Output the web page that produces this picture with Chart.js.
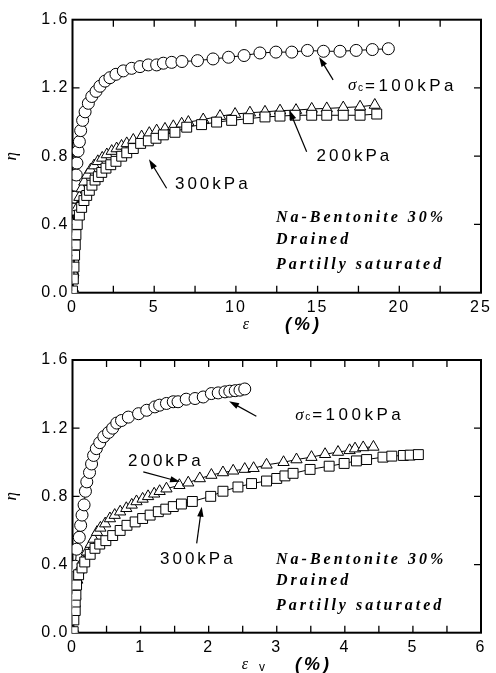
<!DOCTYPE html>
<html lang="en">
<head>
<meta charset="UTF-8">
<title>Na-Bentonite 30% | Drained</title>
<script src="https://cdn.jsdelivr.net/npm/chart.js"></script>
<style>
    body { margin: 0; background: #fff; }
    #janela { position: relative; width: 496px; height: 673px; }
    canvas { position: absolute; left: 0; }
    #grafico1 { top: 0; }
    #grafico2 { top: 330px; }
</style>
</head>
<body>
<div id="janela">
    <canvas id="grafico1" width="496" height="340"></canvas>
    <canvas id="grafico2" width="496" height="343"></canvas>
</div>

<script>
    // ---- dados ----
    // grafico de cima: eta x deformacao axial (%)
    const cimaX100 = [0, 0.01, 0.02, 0.04, 0.06, 0.09, 0.15, 0.2, 0.23, 0.27, 0.34, 0.42, 0.5, 0.62, 0.77, 0.97, 1.18, 1.44, 1.68, 1.99, 2.29, 2.66, 3.11, 3.62, 4.13, 4.64, 5.15, 5.56, 6.07, 6.7, 7.65, 8.6, 9.55, 10.5, 11.47, 12.45, 13.42, 14.38, 15.36, 16.37, 17.36, 18.35, 19.33];
    const cimaY100 = [0, 0.1, 0.18, 0.3, 0.4, 0.49, 0.56, 0.63, 0.69, 0.76, 0.83, 0.885, 0.95, 1.01, 1.06, 1.11, 1.15, 1.18, 1.21, 1.24, 1.26, 1.28, 1.3, 1.315, 1.325, 1.335, 1.335, 1.345, 1.35, 1.355, 1.36, 1.37, 1.38, 1.39, 1.405, 1.41, 1.41, 1.42, 1.415, 1.415, 1.42, 1.425, 1.43];

    const cimaX200 = [0, 0.04, 0.08, 0.13, 0.2, 0.3, 0.42, 0.56, 0.72, 0.9, 1.1, 1.32, 1.55, 1.82, 2.1, 2.4, 2.7, 3.0, 3.32, 3.72, 4.23, 4.7, 5.15, 5.66, 6.17, 6.68, 7.09, 8.0, 9.03, 9.95, 10.86, 11.78, 12.7, 13.68, 14.64, 15.56, 16.57, 17.6, 18.5];
    const cimaY200 = [0, 0.12, 0.24, 0.34, 0.42, 0.5, 0.56, 0.61, 0.65, 0.69, 0.72, 0.745, 0.77, 0.79, 0.81, 0.83, 0.845, 0.86, 0.875, 0.895, 0.915, 0.935, 0.95, 0.96, 0.975, 0.99, 1.0, 1.015, 1.035, 1.047, 1.055, 1.06, 1.067, 1.07, 1.077, 1.08, 1.085, 1.09, 1.1];

    const cimaX300 = [0, 0.05, 0.09, 0.13, 0.17, 0.21, 0.29, 0.42, 0.56, 0.7, 0.87, 1.03, 1.19, 1.38, 1.58, 1.79, 2.05, 2.34, 2.66, 3.01, 3.32, 3.72, 4.17, 4.64, 5.11, 5.56, 6.27, 6.99, 7.9, 8.82, 9.74, 10.76, 11.78, 12.7, 13.62, 14.64, 15.56, 16.57, 17.6, 18.62];
    const cimaY300 = [0.01, 0.08, 0.15, 0.22, 0.28, 0.34, 0.4, 0.455, 0.5, 0.54, 0.57, 0.6, 0.63, 0.66, 0.68, 0.705, 0.73, 0.75, 0.77, 0.8, 0.82, 0.845, 0.875, 0.89, 0.905, 0.925, 0.94, 0.97, 0.985, 1.0, 1.01, 1.02, 1.03, 1.035, 1.04, 1.04, 1.04, 1.04, 1.04, 1.047];

    // grafico de baixo: eta x deformacao volumetrica (%)
    const baixoX100 = [0, 0, 0, 0.01, 0.02, 0.04, 0.06, 0.1, 0.12, 0.14, 0.17, 0.19, 0.21, 0.25, 0.28, 0.31, 0.35, 0.4, 0.46, 0.53, 0.59, 0.65, 0.72, 0.82, 0.97, 1.09, 1.21, 1.28, 1.38, 1.48, 1.55, 1.67, 1.8, 1.92, 2.04, 2.14, 2.24, 2.31, 2.39, 2.46, 2.53];
    const baixoY100 = [0, 0.15, 0.19, 0.28, 0.34, 0.39, 0.49, 0.56, 0.63, 0.69, 0.75, 0.83, 0.885, 0.94, 0.99, 1.04, 1.08, 1.115, 1.15, 1.175, 1.2, 1.23, 1.245, 1.265, 1.285, 1.305, 1.325, 1.335, 1.345, 1.355, 1.355, 1.37, 1.374, 1.383, 1.403, 1.407, 1.413, 1.417, 1.42, 1.423, 1.43];

    const baixoX200 = [0, 0.02, 0.04, 0.07, 0.1, 0.15, 0.21, 0.27, 0.31, 0.36, 0.41, 0.48, 0.55, 0.62, 0.7, 0.79, 0.87, 0.94, 1.03, 1.11, 1.2, 1.28, 1.38, 1.57, 1.7, 1.87, 2.04, 2.21, 2.36, 2.53, 2.66, 2.85, 3.1, 3.29, 3.51, 3.71, 3.9, 4.07, 4.15, 4.27, 4.42];
    const baixoY200 = [0, 0.12, 0.22, 0.31, 0.37, 0.42, 0.475, 0.52, 0.55, 0.59, 0.615, 0.64, 0.67, 0.69, 0.71, 0.73, 0.75, 0.77, 0.785, 0.8, 0.815, 0.83, 0.845, 0.865, 0.88, 0.905, 0.925, 0.94, 0.95, 0.96, 0.965, 0.985, 1.0, 1.016, 1.03, 1.047, 1.06, 1.07, 1.08, 1.087, 1.09];

    const baixoX300 = [0.01, 0.02, 0.04, 0.04, 0.05, 0.06, 0.09, 0.14, 0.18, 0.26, 0.33, 0.4, 0.49, 0.59, 0.7, 0.8, 0.92, 1.03, 1.14, 1.26, 1.37, 1.48, 1.6, 1.76, 2.03, 2.21, 2.43, 2.63, 2.85, 3.0, 3.12, 3.24, 3.49, 3.77, 3.99, 4.17, 4.32, 4.56, 4.69, 4.86, 4.96, 5.08];
    const baixoY300 = [0.006, 0.075, 0.13, 0.18, 0.22, 0.28, 0.34, 0.38, 0.415, 0.46, 0.495, 0.52, 0.54, 0.57, 0.6, 0.63, 0.65, 0.67, 0.69, 0.71, 0.725, 0.74, 0.755, 0.77, 0.8, 0.83, 0.855, 0.875, 0.89, 0.905, 0.92, 0.935, 0.958, 0.977, 0.993, 1.008, 1.016, 1.03, 1.036, 1.04, 1.042, 1.045];

    // escalas
    const yMax = 1.6;
    const yPasso = 0.4;
    const cimaXMax = 25, cimaXPasso = 5, cimaXMenor = 2.5;
    const baixoXMax = 6, baixoXPasso = 1, baixoXMenor = 0.5;

    const fonteTexto = '"Liberation Sans", Arial, sans-serif';
    const fonteSerif = '"Liberation Serif", "Times New Roman", serif';

    function serie(xs, ys, estilo, raio) {
        return {
            data: xs.map(function (x, i) { return { x: x, y: ys[i] }; }),
            showLine: true,
            borderColor: '#000',
            borderWidth: 1,
            backgroundColor: '#fff',
            pointStyle: estilo,
            pointRadius: raio,
            pointBorderWidth: 1,
            pointBackgroundColor: '#fff',
            pointBorderColor: '#000',
            tension: 0
        };
    }

    function textoEspacado(ctx, texto, x, y, fonte, espaco, alinhamento) {
        ctx.save();
        ctx.font = fonte;
        ctx.letterSpacing = espaco + 'px';
        ctx.textAlign = alinhamento || 'left';
        ctx.textBaseline = 'middle';
        ctx.fillStyle = '#000';
        ctx.fillText(texto, x, y);
        ctx.restore();
    }

    function seta(ctx, x1, y1, x2, y2) {
        const ang = Math.atan2(y2 - y1, x2 - x1);
        const comp = 10, larg = 3.2;
        const c = Math.cos(ang), s = Math.sin(ang);
        ctx.save();
        ctx.strokeStyle = '#000';
        ctx.fillStyle = '#000';
        ctx.lineWidth = 1.2;
        ctx.beginPath();
        ctx.moveTo(x1, y1);
        ctx.lineTo(x2 - c * comp * 0.7, y2 - s * comp * 0.7);
        ctx.stroke();
        ctx.beginPath();
        ctx.moveTo(x2, y2);
        ctx.lineTo(x2 - comp * c + larg * s, y2 - comp * s - larg * c);
        ctx.lineTo(x2 - comp * c - larg * s, y2 - comp * s + larg * c);
        ctx.closePath();
        ctx.fill();
        ctx.restore();
    }

    // moldura, marcas para dentro e anotacoes
    const decoracao = {
        id: 'decoracao',
        beforeDraw(chart) {
            chart.ctx.letterSpacing = '2px';
        },
        beforeDatasetsDraw(chart, args, op) {
            const ctx = chart.ctx;
            const a = chart.chartArea;
            const sx = chart.scales.x, sy = chart.scales.y;
            ctx.save();
            ctx.letterSpacing = '0px';
            ctx.strokeStyle = '#000';
            ctx.lineWidth = 1.3;
            ctx.beginPath();
            for (let v = op.xMenor; v < sx.max - 1e-6; v += op.xMenor) {
                const px = sx.getPixelForValue(v);
                ctx.moveTo(px, a.bottom); ctx.lineTo(px, a.bottom - 7);
                ctx.moveTo(px, a.top); ctx.lineTo(px, a.top + 7);
            }
            for (let v = yPasso; v < yMax - 1e-6; v += yPasso) {
                const py = sy.getPixelForValue(v);
                ctx.moveTo(a.left, py); ctx.lineTo(a.left + 7, py);
                ctx.moveTo(a.right, py); ctx.lineTo(a.right - 7, py);
            }
            ctx.stroke();
            ctx.lineWidth = 2;
            ctx.strokeRect(a.left, a.top, a.right - a.left, a.bottom - a.top);
            ctx.restore();
        },
        afterDatasetsDraw(chart, args, op) {
            const ctx = chart.ctx;
            const a = chart.chartArea;
            const sx = chart.scales.x, sy = chart.scales.y;
            const px = function (v) { return sx.getPixelForValue(v); };
            const py = function (v) { return sy.getPixelForValue(v); };

            op.setas.forEach(function (s) {
                seta(ctx, px(s[0]), py(s[1]), px(s[2]), py(s[3]));
            });

            // sigma c = 100kPa
            const sxp = px(op.sigma[0]), syp = py(op.sigma[1]);
            textoEspacado(ctx, 'σ', sxp, syp, 'italic 17px ' + fonteSerif, 0);
            textoEspacado(ctx, 'c', sxp + 10, syp + 2, '10px ' + fonteTexto, 0);
            textoEspacado(ctx, '=100kPa', sxp + 17, syp, '17px ' + fonteTexto, 3.5);

            op.rotulos.forEach(function (r) {
                textoEspacado(ctx, r.t, px(r.x), py(r.y), '17px ' + fonteTexto, 3);
            });

            const linhas = ['Na-Bentonite 30%', 'Drained', 'Partilly saturated'];
            linhas.forEach(function (t, i) {
                textoEspacado(ctx, t, px(op.bloco[0]), py(op.bloco[1][i]), 'italic bold 16px ' + fonteSerif, 3);
            });

            // titulo do eixo y (eta)
            ctx.save();
            ctx.translate(12, (a.top + a.bottom) / 2);
            ctx.rotate(-Math.PI / 2);
            textoEspacado(ctx, 'η', 0, 0, 'italic 17px ' + fonteSerif, 0, 'center');
            ctx.restore();

            // titulo do eixo x
            textoEspacado(ctx, 'ε', op.titulo.x, op.titulo.y, 'italic 16px ' + fonteSerif, 0, 'center');
            if (op.titulo.sub) {
                textoEspacado(ctx, op.titulo.sub, op.titulo.x + 17, op.titulo.y + 3, '12px ' + fonteTexto, 0, 'center');
            }
            textoEspacado(ctx, '(%)', op.titulo.xp, op.titulo.y, 'italic bold 18px ' + fonteTexto, 3);
        }
    };

    function plotarGrafico(idCanvas, datasets, xMax, xPasso, alturaX, topo, notas) {
        const config = {
            type: 'scatter',
            data: { datasets: datasets },
            options: {
                responsive: false,
                animation: false,
                devicePixelRatio: 1,
                layout: { padding: { left: 0, right: 15, top: topo, bottom: 0 } },
                plugins: {
                    legend: { display: false },
                    tooltip: { enabled: false },
                    decoracao: notas
                },
                scales: {
                    x: {
                        type: 'linear',
                        min: 0,
                        max: xMax,
                        afterFit: function (s) { s.height = alturaX; },
                        grid: { display: false, drawTicks: false },
                        border: { display: false },
                        ticks: {
                            stepSize: xPasso,
                            color: '#000',
                            padding: 5,
                            maxRotation: 0,
                            autoSkip: false,
                            font: { family: fonteTexto, size: 16 }
                        }
                    },
                    y: {
                        type: 'linear',
                        min: 0,
                        max: yMax,
                        afterFit: function (s) { s.width = 72.5; },
                        grid: { display: false, drawTicks: false },
                        border: { display: false },
                        ticks: {
                            stepSize: yPasso,
                            color: '#000',
                            padding: 3,
                            callback: function (v) { return v.toFixed(1); },
                            font: { family: fonteTexto, size: 16 }
                        }
                    }
                }
            },
            plugins: [decoracao]
        };
        return new Chart(document.getElementById(idCanvas), config);
    }

    // quadrados por cima dos triangulos, que ficam por cima dos circulos
    plotarGrafico('grafico1', [
        serie(cimaX300, cimaY300, 'rect', 7),
        serie(cimaX200, cimaY200, 'triangle', 6.5),
        serie(cimaX100, cimaY100, 'circle', 6)
    ], cimaXMax, cimaXPasso, 47.3, 19.7, {
        xMenor: cimaXMenor,
        setas: [[15.95, 1.247, 15.09, 1.382], [14.33, 0.826, 13.27, 1.071], [5.76, 0.612, 4.68, 0.782]],
        sigma: [16.86, 1.212],
        rotulos: [{ t: '200kPa', x: 14.94, y: 0.797 }, { t: '300kPa', x: 6.27, y: 0.637 }],
        bloco: [12.45, [0.438, 0.309, 0.162]],
        titulo: { x: 246, y: 325, xp: 285, sub: '' }
    });

    plotarGrafico('grafico2', [
        serie(baixoX300, baixoY300, 'rect', 7),
        serie(baixoX200, baixoY200, 'triangle', 6.5),
        serie(baixoX100, baixoY100, 'circle', 6)
    ], baixoXMax, baixoXPasso, 40.3, 30, {
        xMenor: baixoXMenor,
        setas: [[2.7, 1.27, 2.3, 1.358], [1.04, 0.944, 1.58, 0.885], [1.824, 0.524, 1.898, 0.739]],
        sigma: [3.27, 1.276],
        rotulos: [{ t: '200kPa', x: 0.815, y: 1.008 }, { t: '300kPa', x: 1.285, y: 0.432 }],
        bloco: [2.99, [0.43, 0.305, 0.156]],
        titulo: { x: 245, y: 335, xp: 295, sub: 'v' }
    });
</script>
</body>
</html>
